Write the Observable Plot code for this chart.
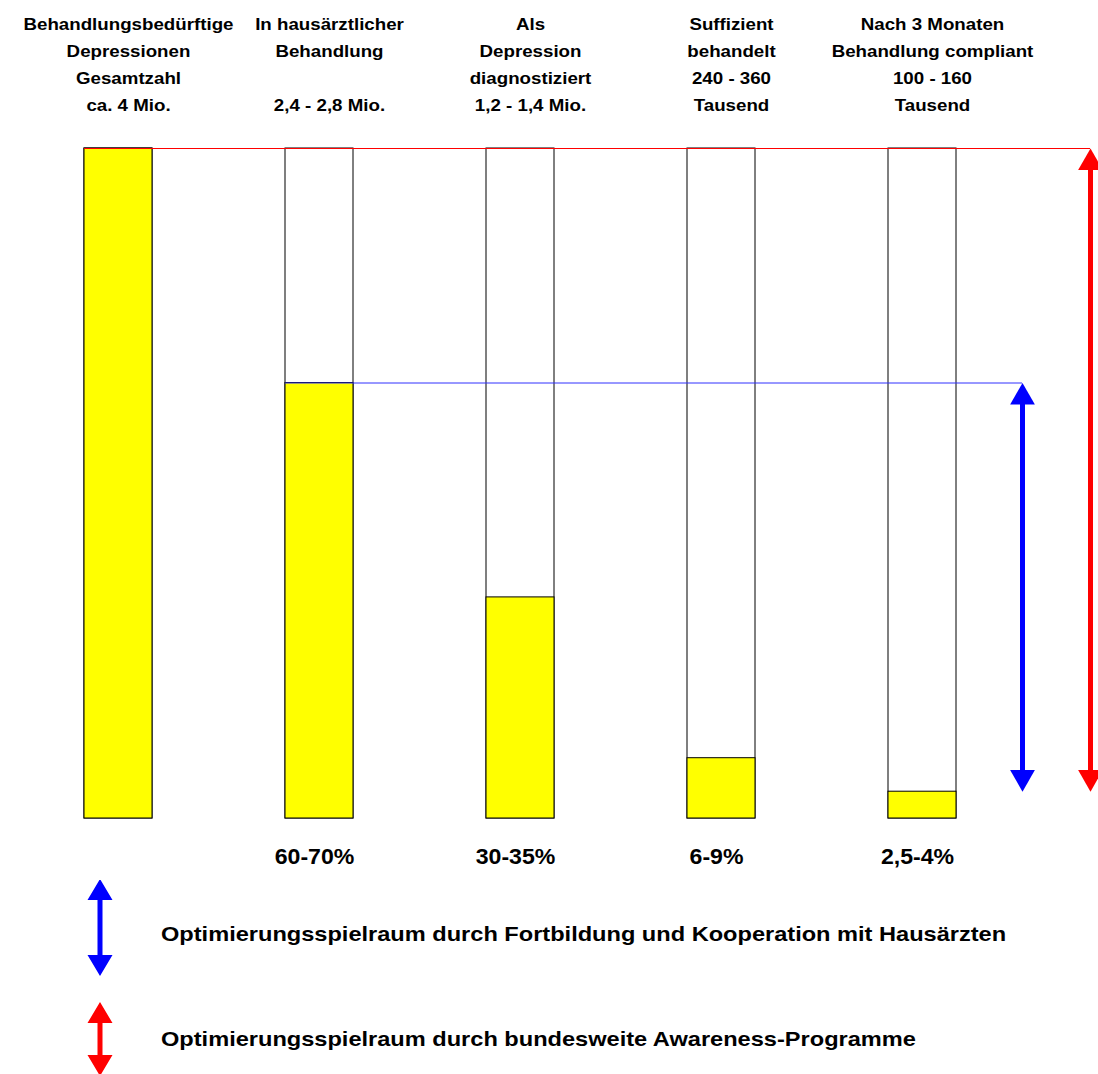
<!DOCTYPE html>
<html lang="de">
<head>
<meta charset="utf-8">
<script src="https://cdn.jsdelivr.net/npm/d3@7"></script>
<script src="https://cdn.jsdelivr.net/npm/@observablehq/plot@0.6"></script>
<style>
  html, body { margin: 0; padding: 0; background: #fff; overflow: hidden; }
  #chart svg, #legend svg { display: block; }
</style>
</head>
<body>
<div id="chart"></div>
<div id="legend"></div>
<script>
// Versorgungsstufen (Kopfzeilen über den Säulen)
const stages = [
  "Behandlungsbedürftige\nDepressionen\nGesamtzahl",
  "In hausärztlicher\nBehandlung\n",
  "Als\nDepression\ndiagnostiziert",
  "Suffizient\nbehandelt",
  "Nach 3 Monaten\nBehandlung compliant"
];
const counts = ["ca. 4 Mio.", "2,4 - 2,8 Mio.", "1,2 - 1,4 Mio.", "240 - 360\nTausend", "100 - 160\nTausend"];
// Anteil an allen behandlungsbedürftigen Depressionen (%)
const shares = [100, 65, 33, 9, 4];
const shareLabels = ["", "60-70%", "30-35%", "6-9%", "2,5-4%"];
const legendLabels = [
  "Optimierungsspielraum durch Fortbildung und Kooperation mit Hausärzten",
  "Optimierungsspielraum durch bundesweite Awareness-Programme"
];
const legendColors = ["#0000ff", "#ff0000"];

const FONT = "'Liberation Sans', Arial, Helvetica, sans-serif";
const BLUE = legendColors[0], RED = legendColors[1];
const BLUE_DX = 100, RED_DX = 168, BAND_HALF = 34;

const rows = stages.map((stage, i) => ({
  stage,
  header: stage + "\n" + counts[i],
  share: shares[i],
  label: shareLabels[i]
}));
const last = stages[stages.length - 1];

// Spielraum: von der Zielgröße bis zum Anteil der compliant Behandelten
const blueSpan = [{stage: last, from: shares[1], to: shares[4]}];
const redSpan = [{stage: last, from: shares[0], to: shares[4]}];

// Pfeilspitzen mit der Spitze im Ursprung
const headUp = {draw(ctx, size) {
  const r = Math.sqrt(size / Math.PI), w = 2.75 * r, h = 2.4 * r;
  ctx.moveTo(0, 0); ctx.lineTo(w / 2, h); ctx.lineTo(-w / 2, h); ctx.closePath();
}};
const headDown = {draw(ctx, size) {
  const r = Math.sqrt(size / Math.PI), w = 2.75 * r, h = 2.4 * r;
  ctx.moveTo(0, 0); ctx.lineTo(w / 2, -h); ctx.lineTo(-w / 2, -h); ctx.closePath();
}};

function spanArrow(data, color, dx) {
  return [
    Plot.ruleX(data, {x: "stage", y1: "from", y2: "to", stroke: color, strokeWidth: 5, dx, insetTop: 20, insetBottom: 20}),
    Plot.dot(data, {x: "stage", y: "from", symbol: headUp, r: 9, fill: color, dx}),
    Plot.dot(data, {x: "stage", y: "to", symbol: headDown, r: 9, fill: color, dx})
  ];
}

const chart = Plot.plot({
  width: 1098,
  height: 880,
  marginTop: 148,
  marginBottom: 62,
  marginLeft: 84,
  marginRight: 142,
  style: {fontFamily: FONT, background: "#fff", overflow: "visible"},
  x: {domain: stages, type: "band", paddingInner: 0.662, paddingOuter: 0, axis: null},
  y: {domain: [0, 100], axis: null},
  marks: [
    // Gesamthöhe jeder Säule = 100 %
    Plot.barY(rows, {x: "stage", y: () => 100, fill: "#fff", stroke: "#000", strokeWidth: 1}),
    // erreichter Anteil
    Plot.barY(rows, {x: "stage", y: "share", fill: "#ffff00", stroke: "#000", strokeWidth: 1}),
    // Bezugslinien zu den Pfeilen
    Plot.ruleY([{from: shares[0]}], {y: "from", x1: () => stages[0], x2: () => last, stroke: RED, strokeWidth: 1, insetRight: -(RED_DX - BAND_HALF)}),
    Plot.ruleY([{from: shares[1]}], {y: "from", x1: () => stages[1], x2: () => last, stroke: "#3030ff", strokeWidth: 1, insetRight: -(BLUE_DX - BAND_HALF)}),
    ...spanArrow(blueSpan, BLUE, BLUE_DX),
    ...spanArrow(redSpan, RED, RED_DX),
    // Kopfzeilen
    Plot.text(rows, {x: "stage", text: "header", frameAnchor: "top", lineAnchor: "bottom", dy: -38, dx: 10,
      fontSize: 16, fontWeight: "bold", lineHeight: 27 / 16, fill: "#000"}),
    // Prozentangaben unter den Säulen
    Plot.text(rows.filter(d => d.label), {x: "stage", text: "label", frameAnchor: "bottom", lineAnchor: "bottom", dy: 45, dx: -5,
      fontSize: 22, fontWeight: "bold", fill: "#000"})
  ]
});

// leicht in die Breite gezogene Schrift
const stretch = {16: 1.17, 22: 1.05};
chart.querySelectorAll("g[aria-label=text] text").forEach(t => {
  const k = stretch[parseFloat(t.parentNode.getAttribute("font-size"))] || 1;
  const tr = t.getAttribute("transform") || "";
  t.setAttribute("transform", tr + ` scale(${k},1)`);
});

document.getElementById("chart").appendChild(chart);

// Legende mit Doppelpfeilen
const legend = d3.select("#legend").append("svg")
  .attr("width", 1098).attr("height", 194)
  .style("font-family", FONT);

const legendRows = [
  {top: -1, len: 97, baseline: 61},
  {top: 122, len: 74, baseline: 166}
];
legendRows.forEach((r, i) => {
  const cx = 100, w = 25, h = 21, sw = 5;
  const g = legend.append("g").attr("fill", legendColors[i]);
  g.append("path").attr("d",
    `M${cx},${r.top}L${cx + w / 2},${r.top + h}L${cx - w / 2},${r.top + h}Z` +
    `M${cx},${r.top + r.len}L${cx + w / 2},${r.top + r.len - h}L${cx - w / 2},${r.top + r.len - h}Z`);
  g.append("rect").attr("x", cx - sw / 2).attr("y", r.top + h - 1).attr("width", sw).attr("height", r.len - 2 * h + 2);
  legend.append("text")
    .attr("transform", `translate(161,${r.baseline}) scale(1.18,1)`)
    .attr("font-size", 20).attr("font-weight", "bold").attr("fill", "#000")
    .text(legendLabels[i]);
});
</script>
</body>
</html>
